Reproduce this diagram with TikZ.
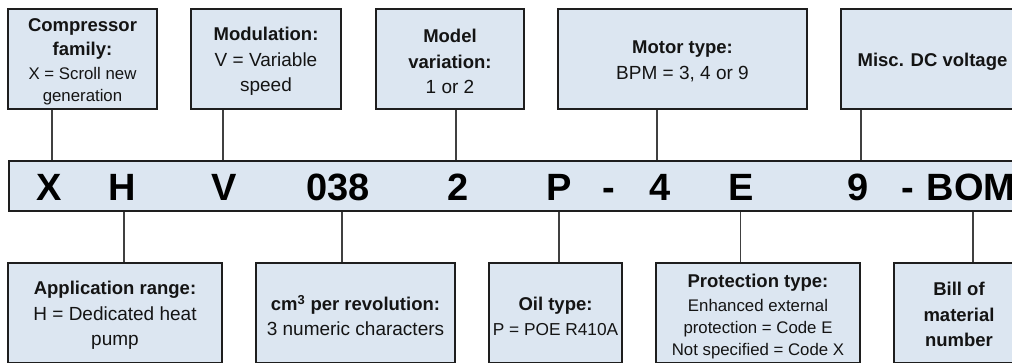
\documentclass[tikz,border=0pt]{standalone}
\usepackage{fontspec}
\setmainfont{Liberation Sans}
\definecolor{boxfill}{HTML}{DCE6F1}
\definecolor{edgecol}{HTML}{1E1E1E}
\definecolor{conncol}{HTML}{404040}
\newcommand{\ttl}[1]{{\bfseries\fontsize{18.5}{25.5}\selectfont #1}}
\tikzset{
  infobox/.style={draw=edgecol, line width=1.8pt, fill=boxfill,
    inner sep=0pt, minimum height=100pt},
  boxtext/.style={align=center, inner sep=0pt, text=black!92,
    font=\fontsize{19}{25.5}\selectfont},
  smalltext/.style={font=\fontsize{16.8}{22}\selectfont},
  conn/.style={draw=conncol, line width=1.1pt},
  codechar/.style={font=\fontsize{38}{38}\selectfont\bfseries, anchor=base,
    inner sep=0pt, text=black},
}
\begin{document}
\begin{tikzpicture}[x=1pt,y=-1pt]
\useasboundingbox (0,0) rectangle (1012,362);
\clip (0,0) rectangle (1012,362);
\fill[white] (0,0) rectangle (1012,362);

% top boxes
\node[infobox, minimum width=149pt] (comp) at (82.5,59) {};
\node[infobox, minimum width=150pt] (mod) at (266,59) {};
\node[infobox, minimum width=148pt] (modv) at (450,59) {};
\node[infobox, minimum width=249pt] (motor) at (682.5,59) {};
\node[infobox, minimum width=183pt] (misc) at (932.5,59) {};

\node[boxtext, smalltext] (compT) at ([yshift=-3pt]comp.center)
  {\ttl{Compressor}\\[2pt]\ttl{family:}\\[2.5pt]X = Scroll new\\generation};
\node[boxtext] (modT) at ([yshift=-2.5pt]mod.center)
  {\ttl{Modulation:}\\V = Variable\\speed};
\node[boxtext] (modvT) at ([yshift=-2.5pt]modv.center)
  {\ttl{Model}\\\ttl{variation:}\\1 or 2};
\node[boxtext] (motorT) at ([yshift=-2.5pt]motor.center)
  {\ttl{Motor type:}\\BPM = 3, 4 or 9};
\node[boxtext] (miscT) at ([yshift=-3pt]misc.center)
  {\ttl{Misc. DC voltage}};

% code bar
\node[draw=edgecol, line width=1.8pt, fill=boxfill, minimum height=50pt,
  minimum width=1040pt, anchor=west, inner sep=0pt] (bar) at (8,186) {};
\node[codechar] (cX) at (49.2,200) {X};
\node[codechar] (cH) at (122,200) {H};
\node[codechar] (cV) at (224.5,200) {V};
\node[codechar] (c038) at (338.3,200) {038};
\node[codechar] (c2) at (458.3,200) {2};
\node[codechar] (cP) at (559,200) {P};
\node[codechar] (cd1) at (609.3,200) {-};
\node[codechar] (c4) at (659.7,200) {4};
\node[codechar] (cE) at (740.7,200) {E};
\node[codechar] (c9) at (857.8,200) {9};
\node[codechar] (cd2) at (907.7,200) {-};
\node[codechar, anchor=base west] (cBOM) at (926.5,200) {BOM};

% bottom boxes
\node[infobox, minimum width=214pt] (app) at (115,313) {};
\node[infobox, minimum width=199pt] (cm3) at (355.5,313) {};
\node[infobox, minimum width=133pt] (oil) at (555.5,313) {};
\node[infobox, minimum width=204pt] (prot) at (758,313) {};
\node[infobox, minimum width=130pt] (bom) at (959,313) {};

\node[boxtext] (appT) at ([yshift=-2.5pt]app.center)
  {\ttl{Application range:}\\H = Dedicated heat\\pump};
\node[boxtext] (cm3T) at ([yshift=-2.5pt]cm3.center)
  {\ttl{cm\textsuperscript{3} per revolution:}\\3 numeric characters};
\node[boxtext, font=\fontsize{17.3}{25}\selectfont] (oilT) at ([yshift=-3pt]oil.center)
  {\ttl{Oil type:}\\P = POE R410A};
\node[boxtext, smalltext] (protT) at ([yshift=-3.5pt]prot.center)
  {\ttl{Protection type:}\\[2pt]Enhanced external\\protection = Code E\\Not specified = Code X};
\node[boxtext] (bomT) at ([yshift=-1.5pt]bom.center)
  {\ttl{Bill of}\\\ttl{material}\\\ttl{number}};

% connectors top
\draw[conn] ([xshift=2.8pt]cX.north |- bar.north) -- ([xshift=2.8pt]cX.north |- comp.south);
\draw[conn] ([xshift=-1.5pt]cV.north |- bar.north) -- ([xshift=-1.5pt]cV.north |- mod.south);
\draw[conn] ([xshift=-2.3pt]c2.north |- bar.north) -- ([xshift=-2.3pt]c2.north |- modv.south);
\draw[conn] ([xshift=-2.7pt]c4.north |- bar.north) -- ([xshift=-2.7pt]c4.north |- motor.south);
\draw[conn] ([xshift=3.2pt]c9.north |- bar.north) -- ([xshift=3.2pt]c9.north |- misc.south);
% connectors bottom
\draw[conn] ([xshift=2pt]cH.south |- bar.south) -- ([xshift=2pt]cH.south |- app.north);
\draw[conn] ([xshift=3.7pt]c038.south |- bar.south) -- ([xshift=3.7pt]c038.south |- cm3.north);
\draw[conn] (cP.south |- bar.south) -- (cP.south |- oil.north);
\draw[conn] (cE.south |- bar.south) -- (cE.south |- prot.north);
\draw[conn] ([xshift=2pt]cBOM.south |- bar.south) -- ([xshift=2pt]cBOM.south |- bom.north);
\end{tikzpicture}
\end{document}
